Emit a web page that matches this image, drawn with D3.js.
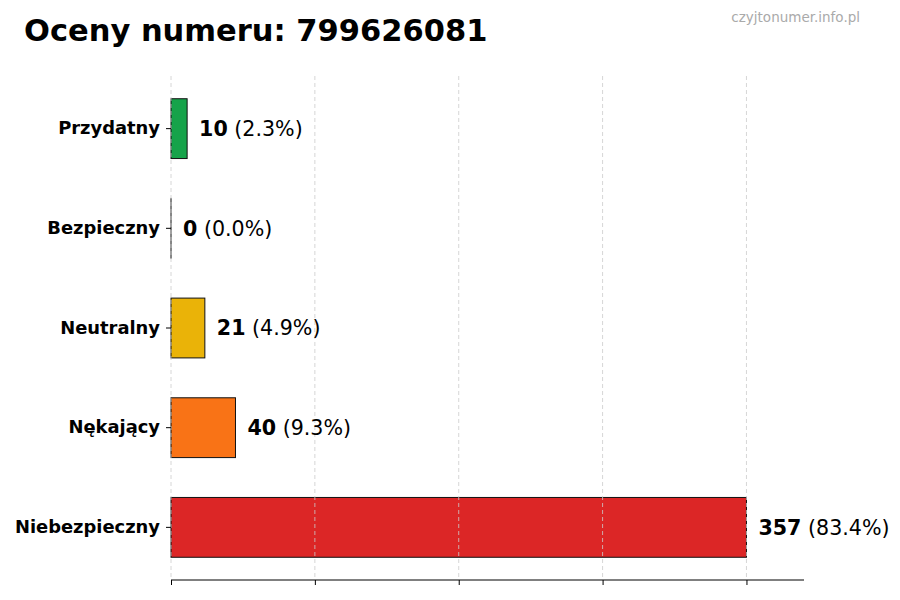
<!DOCTYPE html>
<html>
<head>
<meta charset="utf-8">
<script src="https://cdn.jsdelivr.net/npm/d3@7"></script>
<style>
  html, body { margin: 0; padding: 0; background: #fff; }
  svg { display: block; font-family: "DejaVu Sans", sans-serif; }
</style>
</head>
<body>
<svg id="chart" width="900" height="600"></svg>
<script>
const title = "Oceny numeru: 799626081";
const watermark = "czyjtonumer.info.pl";
const categories = ["Przydatny", "Bezpieczny", "Neutralny", "Nękający", "Niebezpieczny"];
const counts = [10, 0, 21, 40, 357];
const percents = ["2.3%", "0.0%", "4.9%", "9.3%", "83.4%"];
const colors = ["#16a34a", "#3b82f6", "#eab308", "#f97316", "#dc2626"];

const svg = d3.select("#chart");
const margin = { left: 171, right: 96, top: 76, bottom: 20 };
const W = 900, H = 600;
const plotBottom = H - margin.bottom;

const maxV = d3.max(counts);
const x = d3.scaleLinear().domain([0, maxV * 1.1]).range([margin.left, W - margin.right]);
const y = d3.scaleBand().domain(categories).range([margin.top, plotBottom]).paddingInner(0.4).paddingOuter(0.228);
const xTicks = d3.range(5).map(i => maxV * i / 4);

// bars
svg.append("g").selectAll("rect").data(categories).join("rect")
  .attr("x", x(0))
  .attr("y", d => y(d))
  .attr("width", (d, i) => Math.max(x(counts[i]) - x(0), 0.01))
  .attr("height", y.bandwidth())
  .attr("fill", (d, i) => colors[i])
  .attr("stroke", "#111")
  .attr("stroke-width", 1);

// grid (above bars)
svg.append("g").selectAll("line").data(xTicks).join("line")
  .attr("x1", d => x(d)).attr("x2", d => x(d))
  .attr("y1", margin.top).attr("y2", plotBottom)
  .attr("stroke", "#cccccc").attr("stroke-width", 0.8)
  .attr("stroke-dasharray", "4,3");

// x axis
const xAxis = svg.append("g").attr("transform", `translate(0,${plotBottom})`)
  .call(d3.axisBottom(x).tickValues(xTicks).tickFormat("").tickSizeOuter(0).tickSize(5));
xAxis.select(".domain").attr("stroke", "#000").attr("d", `M${x(0)},0H${x(maxV * 1.1)}`);
xAxis.selectAll(".tick line").attr("stroke", "#000");

// y axis
const yAxis = svg.append("g").attr("transform", `translate(${x(0)},0)`)
  .call(d3.axisLeft(y).tickSize(5).tickPadding(6));
yAxis.select(".domain").remove();
yAxis.selectAll(".tick line").attr("stroke", "#000");
yAxis.selectAll(".tick text")
  .attr("font-family", "DejaVu Sans").attr("font-size", 17.9).attr("font-weight", "bold").attr("fill", "#000");

// value labels
const lbl = svg.append("g").selectAll("text").data(categories).join("text")
  .attr("x", (d, i) => x(counts[i]) + 12)
  .attr("y", d => y(d) + y.bandwidth() / 2)
  .attr("dy", "0.36em")
  .attr("font-size", 20.6)
  .attr("fill", "#000");
lbl.append("tspan").attr("font-weight", "bold").text((d, i) => counts[i]);
lbl.append("tspan").text((d, i) => " (" + percents[i] + ")");

// title
svg.append("text").attr("x", 24).attr("y", 41)
  .attr("font-size", 30.5).attr("font-weight", "bold").attr("fill", "#000").text(title);
svg.append("text").attr("x", 860).attr("y", 22).attr("text-anchor", "end")
  .attr("font-size", 13.5).attr("fill", "#aaaaaa").text(watermark);
</script>
</body>
</html>
